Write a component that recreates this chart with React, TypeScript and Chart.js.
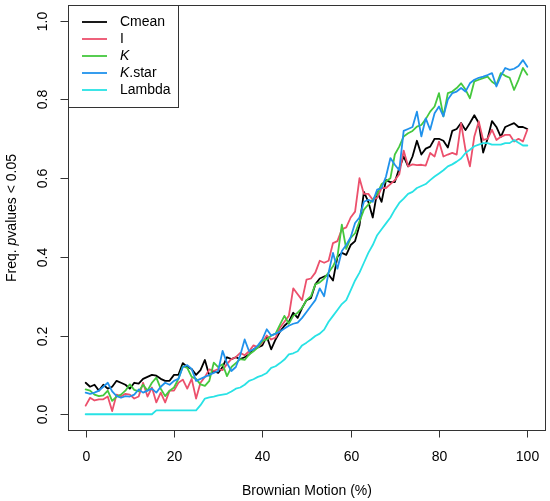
import { useEffect, useRef } from "react"
import Chart from "chart.js/auto"

const FONT = '"Liberation Sans", Arial, Helvetica, sans-serif'

// percentage of Brownian motion on the x axis
const motion = Array.from({ length: 101 }, (_, i) => i)
const xTicks = [0, 20, 40, 60, 80, 100]
const yTicks = [0, 0.2, 0.4, 0.6, 0.8, 1.0]

const seriesNames = ["Cmean", "I", "K", "K.star", "Lambda"]
const seriesColors = ["#000000", "#EC506C", "#45C83E", "#2092EC", "#28E2E5"]

const cmean = [
  0.08, 0.07, 0.075, 0.06, 0.075, 0.065, 0.07, 0.085, 0.08, 0.075,
  0.065, 0.08, 0.078, 0.09, 0.095, 0.1, 0.098, 0.09, 0.085, 0.085,
  0.1, 0.1, 0.13, 0.12, 0.115, 0.1, 0.112, 0.138, 0.098, 0.11,
  0.105, 0.12, 0.145, 0.14, 0.145, 0.14, 0.145, 0.152, 0.165, 0.17,
  0.175, 0.198, 0.165, 0.19, 0.21, 0.225, 0.235, 0.258, 0.245, 0.27,
  0.29, 0.295, 0.33, 0.345, 0.35, 0.355, 0.34, 0.4, 0.41, 0.405,
  0.43, 0.44, 0.48, 0.565, 0.54, 0.5, 0.565, 0.54, 0.595, 0.59,
  0.59, 0.625, 0.655, 0.63, 0.655, 0.695, 0.66, 0.675, 0.68, 0.7,
  0.7, 0.695, 0.678, 0.72, 0.725, 0.74, 0.722, 0.74, 0.76, 0.74,
  0.665, 0.7, 0.745, 0.73, 0.705, 0.73, 0.735, 0.74, 0.73, 0.73,
  0.725,
]

const moranI = [
  0.022, 0.042, 0.035, 0.038, 0.038, 0.045, 0.008, 0.05, 0.045, 0.052,
  0.05, 0.04, 0.045, 0.08, 0.045, 0.068, 0.03, 0.055, 0.03, 0.06,
  0.06, 0.08, 0.088, 0.065, 0.09, 0.04, 0.08, 0.095, 0.114, 0.11,
  0.115, 0.112, 0.128, 0.14, 0.145, 0.156, 0.15, 0.16, 0.175, 0.17,
  0.182, 0.2, 0.19, 0.195, 0.22, 0.235, 0.25, 0.32, 0.305, 0.29,
  0.342, 0.345, 0.36, 0.39, 0.385, 0.39, 0.435, 0.44, 0.47, 0.475,
  0.5, 0.515, 0.6, 0.56, 0.56, 0.545, 0.55, 0.575, 0.575, 0.585,
  0.595, 0.61, 0.67, 0.63, 0.635, 0.633, 0.634, 0.632, 0.664, 0.655,
  0.693, 0.655, 0.66, 0.664, 0.66, 0.74, 0.672, 0.63, 0.706, 0.744,
  0.697, 0.7, 0.723, 0.697, 0.705, 0.71, 0.71, 0.693, 0.7, 0.693,
  0.723,
]

const blombergK = [
  0.063, 0.06, 0.05, 0.046, 0.048, 0.06, 0.034, 0.045, 0.05, 0.06,
  0.076, 0.062, 0.058, 0.075, 0.06, 0.08, 0.093, 0.065, 0.046, 0.06,
  0.068, 0.09, 0.122, 0.118, 0.095, 0.09, 0.076, 0.072, 0.085, 0.131,
  0.12, 0.127, 0.097, 0.12, 0.13, 0.14, 0.138, 0.152, 0.16, 0.17,
  0.186, 0.19, 0.2, 0.205, 0.228, 0.25, 0.23, 0.25, 0.258, 0.27,
  0.29, 0.3, 0.33, 0.335, 0.345, 0.36, 0.376, 0.4, 0.482, 0.42,
  0.448, 0.46, 0.49, 0.52, 0.533, 0.545, 0.56, 0.585, 0.592, 0.6,
  0.66, 0.68, 0.706, 0.714, 0.72, 0.731, 0.735, 0.75, 0.769, 0.782,
  0.816, 0.757, 0.816, 0.82, 0.829, 0.841, 0.825, 0.803, 0.846, 0.85,
  0.854, 0.858, 0.845, 0.837, 0.867, 0.86, 0.855, 0.824, 0.85, 0.88,
  0.863,
]

const kStar = [
  0.055, 0.052, 0.055, 0.06, 0.07, 0.08, 0.058, 0.046, 0.042, 0.046,
  0.045, 0.05, 0.063, 0.055, 0.06, 0.065, 0.055, 0.07, 0.08, 0.075,
  0.085, 0.09, 0.12, 0.125, 0.115, 0.085, 0.09, 0.095, 0.1, 0.105,
  0.11, 0.161, 0.13, 0.11, 0.12, 0.15, 0.19, 0.16, 0.165, 0.175,
  0.19, 0.216, 0.2, 0.205, 0.21, 0.218, 0.225, 0.23, 0.233, 0.245,
  0.26, 0.275, 0.29, 0.32, 0.3, 0.36, 0.41, 0.37, 0.415, 0.43,
  0.45, 0.486, 0.5, 0.54, 0.545, 0.54, 0.571, 0.575, 0.604, 0.651,
  0.634, 0.62, 0.72, 0.725, 0.73, 0.769, 0.706, 0.752, 0.723, 0.765,
  0.782, 0.757, 0.8, 0.816, 0.82, 0.829, 0.82, 0.841, 0.85, 0.855,
  0.858, 0.862, 0.867, 0.833, 0.86, 0.88, 0.875, 0.878, 0.885, 0.9,
  0.883,
]

const lambda = [
  0, 0, 0, 0, 0, 0, 0, 0, 0, 0,
  0, 0, 0, 0, 0, 0, 0.01, 0.01, 0.01, 0.01,
  0.01, 0.01, 0.01, 0.01, 0.01, 0.01, 0.023, 0.04, 0.043, 0.045,
  0.048, 0.05, 0.052, 0.058, 0.065, 0.068, 0.075, 0.085, 0.089, 0.095,
  0.099, 0.105, 0.118, 0.122, 0.13, 0.139, 0.152, 0.155, 0.16, 0.175,
  0.182, 0.19, 0.199, 0.205, 0.215, 0.235, 0.25, 0.265, 0.28, 0.29,
  0.315, 0.34, 0.36, 0.385, 0.41, 0.43, 0.455, 0.47, 0.485, 0.5,
  0.52, 0.537, 0.548, 0.56, 0.565, 0.575, 0.58, 0.585, 0.595, 0.604,
  0.612, 0.62, 0.63, 0.635, 0.642, 0.65, 0.664, 0.672, 0.681, 0.685,
  0.689, 0.689, 0.685, 0.685, 0.685, 0.689, 0.689, 0.697, 0.69, 0.683,
  0.683,
]

const seriesValues = [cmean, moranI, blombergK, kStar, lambda]

// text pieces, flagged italic or not
const legendParts: [string, boolean][][] = [
  [["Cmean", false]],
  [["I", false]],
  [["K", true]],
  [["K", true], [".star", false]],
  [["Lambda", false]],
]
const yTitleParts: [string, boolean][] = [["Freq. ", false], ["p", true], ["values < 0.05", false]]
const xTitle = "Brownian Motion (%)"

function font(italic: boolean) {
  return (italic ? "italic " : "") + "14px " + FONT
}

function drawParts(ctx: CanvasRenderingContext2D, parts: [string, boolean][], x: number, y: number, center: boolean) {
  let total = 0
  for (const [t, it] of parts) {
    ctx.font = font(it)
    total += ctx.measureText(t).width
  }
  let cx = center ? x - total / 2 : x
  ctx.textAlign = "left"
  for (const [t, it] of parts) {
    ctx.font = font(it)
    ctx.fillText(t, cx, y)
    cx += ctx.measureText(t).width
  }
}

const rFrame = {
  id: "rFrame",
  afterDraw(chart: any) {
    const ctx: CanvasRenderingContext2D = chart.ctx
    const { left, right, top, bottom } = chart.chartArea
    const xs = chart.scales.x
    const ys = chart.scales.y
    ctx.save()
    ctx.strokeStyle = "#333"
    ctx.lineWidth = 1
    ctx.fillStyle = "#000"

    // plot box
    const l = Math.round(left) + 0.5
    const t = Math.round(top) + 0.5
    const r = Math.round(right) + 0.5
    const b = Math.round(bottom) + 0.5
    ctx.strokeRect(l, t, r - l, b - t)

    // x axis
    ctx.textBaseline = "middle"
    ctx.textAlign = "center"
    ctx.font = font(false)
    for (const v of xTicks) {
      const px = Math.round(xs.getPixelForValue(v)) + 0.5
      ctx.beginPath()
      ctx.moveTo(px, b)
      ctx.lineTo(px, b + 7)
      ctx.stroke()
      ctx.fillText(String(v), px, 457)
    }
    ctx.fillText(xTitle, (l + r) / 2, 491)

    // y axis, labels rotated like R
    for (const v of yTicks) {
      const py = Math.round(ys.getPixelForValue(v)) + 0.5
      ctx.beginPath()
      ctx.moveTo(l, py)
      ctx.lineTo(l - 8, py)
      ctx.stroke()
      ctx.save()
      ctx.translate(43, py)
      ctx.rotate(-Math.PI / 2)
      ctx.textAlign = "center"
      ctx.fillText(v.toFixed(1), 0, 0)
      ctx.restore()
    }
    ctx.save()
    ctx.translate(12, (t + b) / 2)
    ctx.rotate(-Math.PI / 2)
    drawParts(ctx, yTitleParts, 0, 0, true)
    ctx.restore()

    // legend box in the top-left corner
    const lw = 110
    const lh = 102
    ctx.fillStyle = "#fff"
    ctx.fillRect(l, t, lw, lh)
    ctx.strokeRect(l, t, lw, lh)
    ctx.lineWidth = 1.8
    seriesNames.forEach((_, i) => {
      const ry = 22 + i * 17
      ctx.strokeStyle = seriesColors[i]
      ctx.beginPath()
      ctx.moveTo(82, ry)
      ctx.lineTo(107, ry)
      ctx.stroke()
      ctx.fillStyle = "#000"
      drawParts(ctx, legendParts[i], 120, ry, false)
    })
    ctx.restore()
  },
}

export default function App() {
  const chartRef = useRef<HTMLCanvasElement>(null)
  const chartInstance = useRef<Chart | null>(null)

  useEffect(() => {
    if (!chartRef.current) return
    const ctx = chartRef.current.getContext("2d")
    if (!ctx) return
    if (chartInstance.current) chartInstance.current.destroy()

    chartInstance.current = new Chart(ctx, {
      type: "line",
      data: {
        labels: motion,
        datasets: seriesNames.map((name, i) => ({
          label: name,
          data: seriesValues[i],
          borderColor: seriesColors[i],
          backgroundColor: seriesColors[i],
          borderWidth: 1.8,
          pointRadius: 0,
          tension: 0,
          fill: false,
          borderJoinStyle: "round" as const,
          borderCapStyle: "round" as const,
          order: seriesNames.length - i,
        })),
      },
      options: {
        animation: false,
        responsive: true,
        maintainAspectRatio: false,
        layout: { padding: { left: 68, right: 5, top: 5, bottom: 71 } },
        scales: {
          x: { type: "linear", min: -4, max: 104, display: false },
          y: { type: "linear", min: -0.04, max: 1.04, display: false },
        },
        plugins: {
          legend: { display: false },
          tooltip: { enabled: false },
        },
      },
      plugins: [rFrame],
    })

    return () => {
      if (chartInstance.current) {
        chartInstance.current.destroy()
        chartInstance.current = null
      }
    }
  }, [])

  return (
    <div style={{ position: "absolute", left: 0, top: 0, width: 550, height: 501, background: "#fff" }}>
      <canvas ref={chartRef} aria-label="Freq. p values by Brownian motion" role="img"></canvas>
    </div>
  )
}
